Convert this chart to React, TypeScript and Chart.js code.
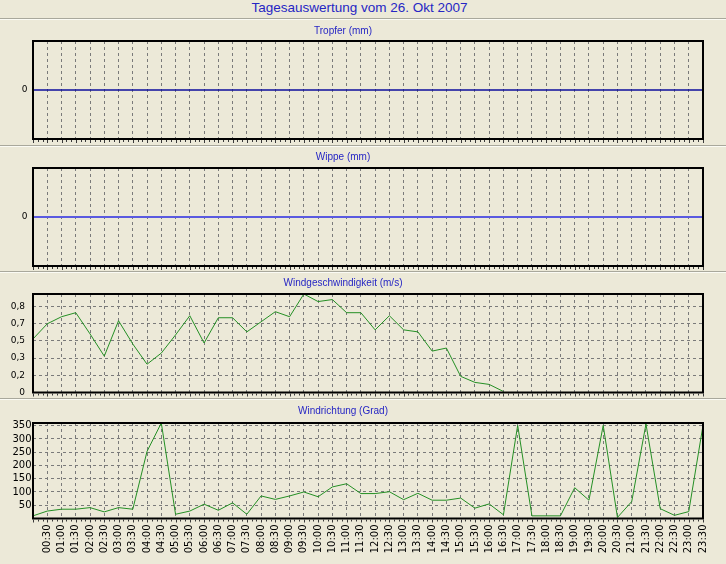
import React, { useEffect, useRef } from "react";
import { Chart, registerables } from "chart.js";

Chart.register(...registerables);

// ---------- data ----------
const timeLabels = [
  "00:00", "00:30", "01:00", "01:30", "02:00", "02:30", "03:00", "03:30",
  "04:00", "04:30", "05:00", "05:30", "06:00", "06:30", "07:00", "07:30",
  "08:00", "08:30", "09:00", "09:30", "10:00", "10:30", "11:00", "11:30",
  "12:00", "12:30", "13:00", "13:30", "14:00", "14:30", "15:00", "15:30",
  "16:00", "16:30", "17:00", "17:30", "18:00", "18:30", "19:00", "19:30",
  "20:00", "20:30", "21:00", "21:30", "22:00", "22:30", "23:00", "23:30",
];

const tropferValues = [
  0, 0, 0, 0, 0, 0, 0, 0, 0, 0, 0, 0, 0, 0, 0, 0,
  0, 0, 0, 0, 0, 0, 0, 0, 0, 0, 0, 0, 0, 0, 0, 0,
  0, 0, 0, 0, 0, 0, 0, 0, 0, 0, 0, 0, 0, 0, 0, 0,
];

const wippeValues = [
  0, 0, 0, 0, 0, 0, 0, 0, 0, 0, 0, 0, 0, 0, 0, 0,
  0, 0, 0, 0, 0, 0, 0, 0, 0, 0, 0, 0, 0, 0, 0, 0,
  0, 0, 0, 0, 0, 0, 0, 0, 0, 0, 0, 0, 0, 0, 0, 0,
];

const speedValues: (number | null)[] = [
  0.53, 0.68, 0.75, 0.79, 0.58, 0.36, 0.71, 0.48,
  0.28, 0.39, 0.57, 0.76, 0.49, 0.74, 0.74, 0.6,
  0.7, 0.8, 0.75, 0.975, 0.9, 0.92, 0.79, 0.79,
  0.62, 0.76, 0.62, 0.6, 0.41, 0.44, 0.16, 0.1,
  0.08, 0.01, null, null, null, null, null, null,
  null, null, null, null, null, null, null, null,
];

const directionValues = [
  10, 28, 35, 35, 41, 25, 41, 35,
  253, 360, 16, 28, 54, 31, 59, 16,
  85, 72, 85, 100, 82, 119, 131, 94,
  94, 101, 71, 95, 69, 69, 77, 39,
  55, 14, 351, 10, 10, 10, 116, 69,
  351, 4, 64, 356, 37, 12, 26, 351,
];

const zeroTickValues = [0];
const zeroTickLabels = ["0"];
const speedTickValues = [0, 0.17, 0.34, 0.51, 0.68, 0.85];
const speedTickLabels = ["0", "0,2", "0,3", "0,5", "0,7", "0,8"];
const directionTickValues = [50, 100, 150, 200, 250, 300, 350];
const directionTickLabels = ["50", "100", "150", "200", "250", "300", "350"];

const mainTitle = "Tagesauswertung vom 26. Okt 2007";
const panelTitles = ["Tropfer (mm)", "Wippe (mm)", "Windgeschwindigkeit (m/s)", "Windrichtung (Grad)"];

// ---------- styles ----------
const BG = "#ECE9D8";
const GRID = "#7a7a7a";
const GREEN = "#248f24";
const TITLE_BLUE = "#2626c4";

type PanelSpec = {
  title: string;
  values: (number | null)[];
  color: string;
  lineWidth: number;
  min: number;
  max: number;
  tickValues: number[];
  tickLabels: string[];
  yGrid: boolean;
  yPad: number;
  yFontSize: number;
  showX: boolean;
  top: number;
  height: number;
  padTop: number;
  xHeight: number;
  titleTop: number;
};

const panels: PanelSpec[] = [
  {
    title: panelTitles[0], values: tropferValues, color: "#0c0c9c", lineWidth: 1.3,
    min: -1, max: 1, tickValues: zeroTickValues, tickLabels: zeroTickLabels, yGrid: false,
    yPad: 5.5, yFontSize: 9, showX: false, top: 20, height: 125, padTop: 21, xHeight: 6, titleTop: 25,
  },
  {
    title: panelTitles[1], values: wippeValues, color: "#5a5ae0", lineWidth: 2,
    min: -1, max: 1, tickValues: zeroTickValues, tickLabels: zeroTickLabels, yGrid: false,
    yPad: 5.5, yFontSize: 9, showX: false, top: 147, height: 125, padTop: 21, xHeight: 6, titleTop: 151,
  },
  {
    title: panelTitles[2], values: speedValues, color: GREEN, lineWidth: 1,
    min: 0, max: 0.975, tickValues: speedTickValues, tickLabels: speedTickLabels, yGrid: true,
    yPad: 8, yFontSize: 9, showX: false, top: 273, height: 126, padTop: 21, xHeight: 6.5, titleTop: 277,
  },
  {
    title: panelTitles[3], values: directionValues, color: GREEN, lineWidth: 1,
    min: 0, max: 360, tickValues: directionTickValues, tickLabels: directionTickLabels, yGrid: true,
    yPad: 1.5, yFontSize: 10, showX: true, top: 400, height: 164, padTop: 23, xHeight: 45.5, titleTop: 405,
  },
];

const framePlugin = {
  id: "frameAndMinorTicks",
  afterDatasetsDraw(chart: any) {
    const { ctx, chartArea } = chart;
    const { left, top, right, bottom } = chartArea;
    ctx.save();
    ctx.strokeStyle = "#000";
    ctx.lineWidth = 2;
    ctx.setLineDash([]);
    ctx.strokeRect(left, top, right - left, bottom - top);
    const xs = chart.scales.x;
    const n = chart.data.labels.length;
    ctx.lineWidth = 1;
    ctx.strokeStyle = "#3a3a3a";
    ctx.beginPath();
    for (let i = 0; i < n; i++) {
      const x0 = xs.getPixelForValue(i);
      const px = Math.round(x0) + 0.5;
      ctx.moveTo(px, bottom + 1);
      ctx.lineTo(px, bottom + 4);
      if (i < n - 1) {
        const x1 = xs.getPixelForValue(i + 1);
        for (let k = 1; k < 3; k++) {
          const mx = Math.round(x0 + ((x1 - x0) * k) / 3) + 0.5;
          ctx.moveTo(mx, bottom + 1);
          ctx.lineTo(mx, bottom + 3);
        }
      }
    }
    ctx.stroke();
    ctx.restore();
  },
};

function makeChart(canvas: HTMLCanvasElement, spec: PanelSpec) {
  return new Chart(canvas, {
    type: "line",
    data: {
      labels: timeLabels,
      datasets: [
        {
          data: spec.values,
          borderColor: spec.color,
          borderWidth: spec.lineWidth,
          pointRadius: 0,
          pointHoverRadius: 0,
          tension: 0,
          fill: false,
          spanGaps: false,
        },
      ],
    },
    options: {
      animation: false,
      responsive: false,
      devicePixelRatio: 1,
      events: [],
      layout: { padding: { top: spec.padTop, right: 23, bottom: 0, left: 0 } },
      plugins: {
        legend: { display: false },
        tooltip: { enabled: false },
        title: { display: false },
      },
      scales: {
        x: {
          type: "category",
          offset: false,
          grid: { display: true, color: GRID, lineWidth: 1, drawTicks: false, drawOnChartArea: true },
          border: { display: false, dash: [3, 3] },
          ticks: spec.showX
            ? {
                display: true,
                autoSkip: false,
                minRotation: 90,
                maxRotation: 90,
                padding: 6,
                color: "#000",
                font: { family: '"DejaVu Sans", sans-serif', size: 10 },
                callback: (_v: any, index: number) => (index === 0 ? "" : timeLabels[index]),
              }
            : { display: false, autoSkip: false },
          afterFit: (s: any) => {
            s.height = spec.xHeight;
            s.paddingLeft = 0;
            s.paddingRight = 0;
          },
        },
        y: {
          type: "linear",
          min: spec.min,
          max: spec.max,
          grid: { display: spec.yGrid, color: GRID, lineWidth: 1, drawTicks: false },
          border: { display: false, dash: [3, 3] },
          ticks: {
            autoSkip: false,
            padding: spec.yPad,
            color: "#000",
            font: { family: '"DejaVu Sans", sans-serif', size: spec.yFontSize },
            callback: (_v: any, index: number) => spec.tickLabels[index] ?? "",
          },
          afterBuildTicks: (s: any) => {
            s.ticks = spec.tickValues.map((v) => ({ value: v }));
          },
          afterFit: (s: any) => {
            s.width = 33;
            s.paddingTop = 0;
            s.paddingBottom = 0;
          },
        },
      },
    } as any,
    plugins: [framePlugin],
  });
}

function Panel({ spec }: { spec: PanelSpec }) {
  const ref = useRef<HTMLCanvasElement | null>(null);
  useEffect(() => {
    if (!ref.current) return;
    const chart = makeChart(ref.current, spec);
    return () => chart.destroy();
  }, [spec]);
  return (
    <>
      <canvas
        ref={ref}
        width={726}
        height={spec.height}
        style={{ position: "absolute", left: 0, top: spec.top, width: 726, height: spec.height, display: "block" }}
      />
      <div
        style={{
          position: "absolute",
          left: 0,
          top: spec.titleTop,
          width: 686,
          textAlign: "center",
          fontSize: 10,
          lineHeight: "12px",
          color: TITLE_BLUE,
          whiteSpace: "nowrap",
        }}
      >
        {spec.title}
      </div>
    </>
  );
}

const separatorTops = [18, 145, 271, 398];

export default function App() {
  return (
    <div
      style={{
        position: "absolute",
        left: 0,
        top: 0,
        width: 726,
        height: 564,
        background: BG,
        overflow: "hidden",
        fontFamily: '"Liberation Sans", Arial, sans-serif',
      }}
    >
      <div
        style={{
          position: "absolute",
          left: 0,
          top: 0,
          width: 719,
          textAlign: "center",
          fontSize: 13.5,
          lineHeight: "15px",
          color: TITLE_BLUE,
          whiteSpace: "nowrap",
        }}
      >
        {mainTitle}
      </div>
      {panels.map((p, i) => (
        <Panel key={i} spec={p} />
      ))}
      {separatorTops.map((t, i) => (
        <React.Fragment key={"s" + i}>
          <div style={{ position: "absolute", left: 0, top: t, width: 726, height: 1, background: "#a9a89c" }} />
          <div style={{ position: "absolute", left: 0, top: t + 1, width: 726, height: 1, background: "#fbfbf4" }} />
        </React.Fragment>
      ))}
    </div>
  );
}
